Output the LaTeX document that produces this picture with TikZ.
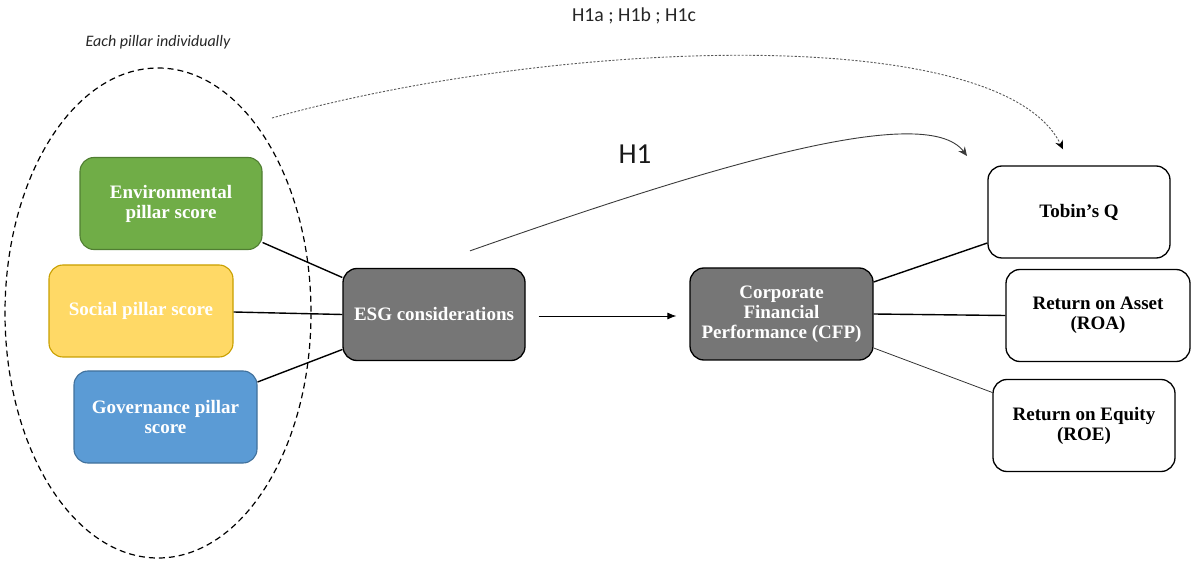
\documentclass[tikz,border=0pt]{standalone}
\usepackage{fontspec}
\setmainfont{Liberation Serif}
\newfontfamily\calib{Carlito}
\usetikzlibrary{arrows.meta}
\definecolor{envfill}{HTML}{70AD47}
\definecolor{envdraw}{HTML}{507E32}
\definecolor{socfill}{HTML}{FFD966}
\definecolor{socdraw}{HTML}{C9A000}
\definecolor{govfill}{HTML}{5B9BD5}
\definecolor{govdraw}{HTML}{41719C}
\definecolor{boxgray}{HTML}{767676}
\definecolor{curvegray}{HTML}{3A3A3A}
\tikzset{
  pbox/.style={rounded corners=14pt, minimum width=182pt, minimum height=92pt, inner sep=0pt,
    align=center, font=\fontsize{19}{20}\selectfont\bfseries, line width=1.1pt},
  pillar/.style={pbox, text=white},
  darkbox/.style={pbox, fill=boxgray, draw=black, text=white, line width=1.3pt},
  whitebox/.style={pbox, fill=white, draw=black, text=black, line width=1.3pt},
  link/.style={draw=black, line width=1.4pt},
  thinlink/.style={draw=black!80, line width=0.8pt},
}
\begin{document}
\begin{tikzpicture}[x=1pt,y=-1pt]
\useasboundingbox (0,0) rectangle (1192,561);
% ellipse
\draw[black, line width=1.2pt, dash pattern=on 6pt off 4pt] (158,313) ellipse [x radius=153, y radius=245];
% labels
\node[font=\calib\itshape\fontsize{16}{18}\selectfont, text=black!85] (eachlbl) at (158,42) {Each pillar individually};
\node[font=\calib\fontsize{19.8}{22}\selectfont, text=black!85] (h1abc) at (634,16) {H1a ; H1b ; H1c};
\node[font=\calib\fontsize{29}{31}\selectfont, text=black!90] (h1lbl) at (635,154) {H1};
% nodes
\node[pillar, fill=envfill, draw=envdraw] (env) at (171,203.5) {Environmental\\pillar score};
\node[pillar, fill=socfill, draw=socdraw, minimum width=184pt] (soc) at (141,311) {Social pillar score};
\node[pillar, fill=govfill, draw=govdraw, minimum width=183pt] (gov) at (165.5,417) {Governance pillar\\score};
\node[darkbox] (esg) at (434,314.5) {ESG considerations};
\node[darkbox, minimum width=183pt] (cfp) at (781.5,314) {Corporate\\Financial\\Performance (CFP)};
\node[whitebox] (tobin) at (1079,212) {Tobin’s Q};
\node[whitebox, minimum width=184pt] (roa) at (1098,315.5) {Return on Asset\\(ROA)};
\node[whitebox] (roe) at (1084,425.5) {Return on Equity\\(ROE)};
% pillar connectors
\draw[link] ([yshift=-39pt]env.east) -- ([yshift=37pt]esg.west);
\draw[link] ([yshift=-1pt]soc.east) -- (esg.west);
\draw[link] ([yshift=35pt]gov.east) -- ([yshift=-35pt]esg.west);
% ESG -> CFP
\draw[black, line width=0.8pt, -{Latex[length=9pt,width=7pt]}, shorten <=13pt, shorten >=13pt] ([yshift=-1.5pt]esg.east) -- ([yshift=-2pt]cfp.west);
% CFP connectors
\draw[link] ([yshift=32pt]cfp.east) -- ([yshift=-31pt]tobin.west);
\draw[link] (cfp.east) -- (roa.west);
\draw[thinlink] ([yshift=-34pt]cfp.east) -- ([yshift=33pt]roe.west);
% H1 curve
\coordinate (h1end) at (967,156);
\draw[curvegray, line width=0.9pt, -{Stealth[length=9pt,width=8pt,inset=3pt]}] ([xshift=36pt,yshift=17pt]esg.north) .. controls (700,170) and (925,100) .. (h1end);
% dashed curve
\coordinate (dstart) at (272,118);
\coordinate (dend) at ([xshift=-16pt,yshift=16pt]tobin.north);
\draw[black!65, line width=0.9pt, dash pattern=on 2.2pt off 1.6pt, -{Stealth[length=9pt,width=8pt,inset=3pt,black]}] (dstart) .. controls (550,40) and (1000,20) .. (dend);
\end{tikzpicture}
\end{document}
